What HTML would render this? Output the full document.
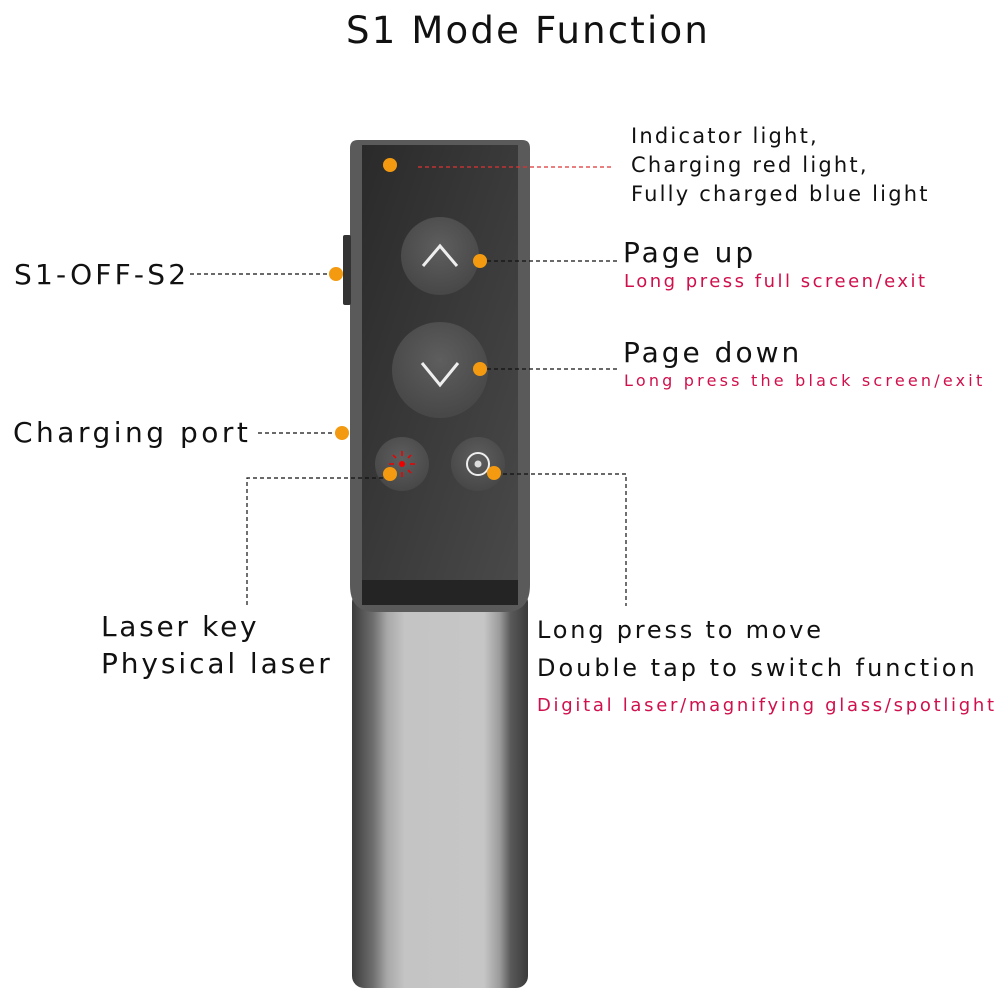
<!DOCTYPE html>
<html><head><meta charset="utf-8"><style>
body{margin:0;background:#fff;width:1000px;height:1000px;overflow:hidden}
svg{display:block}
text{font-family:"DejaVu Sans","Liberation Sans",sans-serif}
</style></head><body>
<svg width="1000" height="1000" viewBox="0 0 1000 1000">
<defs>
<linearGradient id="sil" x1="0" x2="1" y1="0" y2="0">
<stop offset="0" stop-color="#3c3c3c"/><stop offset="0.12" stop-color="#6e6e6e"/><stop offset="0.2" stop-color="#a8a8a8"/><stop offset="0.3" stop-color="#c4c4c4"/><stop offset="0.75" stop-color="#c6c6c6"/><stop offset="0.84" stop-color="#9a9a9a"/><stop offset="0.9" stop-color="#5a5a5a"/><stop offset="1" stop-color="#3a3a3a"/>
</linearGradient>
<linearGradient id="dk" x1="0" x2="1" y1="0" y2="1">
<stop offset="0" stop-color="#2a2a2a"/><stop offset="1" stop-color="#4a4a4a"/>
</linearGradient>
<radialGradient id="btn" cx="0.5" cy="0.4" r="0.6"><stop offset="0" stop-color="#5e5e5e"/><stop offset="1" stop-color="#474747"/></radialGradient>
</defs>
<text x="528" y="43" font-size="37" text-anchor="middle" letter-spacing="2.2" fill="#111">S1 Mode Function</text>
<rect x="352" y="590" width="176" height="398" rx="12" fill="url(#sil)"/>
<path d="M350 148 Q350 140 358 140 L522 140 Q530 140 530 148 L530 585 Q530 612 505 612 L375 612 Q350 612 350 585 Z" fill="#5a5a5a"/>
<path d="M362 145 L518 145 L518 585 Q518 605 498 605 L382 605 Q362 605 362 585 Z" fill="url(#dk)"/>
<rect x="362" y="580" width="156" height="25" fill="#242424"/>
<rect x="343" y="235" width="8" height="70" rx="2" fill="#333"/>
<circle cx="440" cy="256" r="39" fill="url(#btn)"/>
<polyline points="423,266 440,246 457,266" fill="none" stroke="#eee" stroke-width="3"/>
<circle cx="440" cy="370" r="48" fill="url(#btn)"/>
<polyline points="422,363 440,385 458,363" fill="none" stroke="#eee" stroke-width="3"/>
<circle cx="402" cy="464" r="27" fill="url(#btn)"/>
<circle cx="402" cy="464" r="3" fill="#e00"/>
<g stroke="#e00" stroke-width="1.5"><line x1="402" y1="451" x2="402" y2="456"/><line x1="402" y1="472" x2="402" y2="477"/><line x1="389" y1="464" x2="394" y2="464"/><line x1="410" y1="464" x2="415" y2="464"/><line x1="393" y1="455" x2="396" y2="458"/><line x1="408" y1="470" x2="411" y2="473"/><line x1="411" y1="455" x2="408" y2="458"/><line x1="393" y1="473" x2="396" y2="470"/></g>
<circle cx="478" cy="464" r="27" fill="url(#btn)"/>
<circle cx="478" cy="464" r="11" fill="none" stroke="#eee" stroke-width="2"/>
<circle cx="478" cy="464" r="3.5" fill="#ddd"/>
<g fill="none" stroke-dasharray="4,3" stroke-width="1.2">
<line x1="418" y1="167" x2="614" y2="167" stroke="#d33"/>
<line x1="480" y1="261" x2="618" y2="261" stroke="#111"/>
<line x1="480" y1="369" x2="618" y2="369" stroke="#111"/>
<line x1="190" y1="274" x2="335" y2="274" stroke="#111"/>
<line x1="258" y1="433" x2="340" y2="433" stroke="#111"/>
<polyline points="390,478 247,478 247,608" stroke="#111"/>
<polyline points="496,474 626,474 626,606" stroke="#111"/>
</g>
<g fill="#f39a10">
<circle cx="390" cy="165" r="7"/><circle cx="480" cy="261" r="7"/><circle cx="480" cy="369" r="7"/>
<circle cx="336" cy="274" r="7"/><circle cx="342" cy="433" r="7"/><circle cx="390" cy="474" r="7"/><circle cx="494" cy="473" r="7"/>
</g>
<g fill="#111">
<text x="631" y="143" font-size="21" letter-spacing="2.2">Indicator light,</text>
<text x="631" y="172" font-size="21" letter-spacing="2.2">Charging red light,</text>
<text x="631" y="201" font-size="21" letter-spacing="2.2">Fully charged blue light</text>
<text x="623" y="262" font-size="28" letter-spacing="3">Page up</text>
<text x="623" y="362" font-size="28" letter-spacing="3">Page down</text>
<text x="14" y="284" font-size="28" letter-spacing="3.2">S1-OFF-S2</text>
<text x="13" y="442" font-size="28" letter-spacing="3.5">Charging port</text>
<text x="101" y="636" font-size="28" letter-spacing="2.7">Laser key</text>
<text x="101" y="673" font-size="28" letter-spacing="2.9">Physical laser</text>
<text x="537" y="638" font-size="24" letter-spacing="2.8">Long press to move</text>
<text x="537" y="676" font-size="24" letter-spacing="3">Double tap to switch function</text>
</g>
<g fill="#d0104c">
<text x="624" y="287" font-size="18" letter-spacing="2.5">Long press full screen/exit</text>
<text x="624" y="386" font-size="16" letter-spacing="3.2">Long press the black screen/exit</text>
<text x="537" y="711" font-size="18" letter-spacing="2.7">Digital laser/magnifying glass/spotlight</text>
</g>
</svg>
</body></html>
